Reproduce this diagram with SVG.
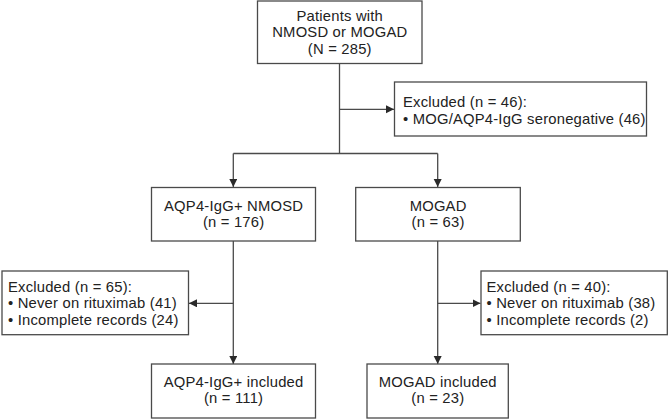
<svg xmlns="http://www.w3.org/2000/svg" width="669" height="420" viewBox="0 0 669 420">
<style>
.box{fill:#fff;stroke:#4a4a4a;stroke-width:1.3}
.t{font-family:"Liberation Sans",Arial,sans-serif;font-size:14.8px;letter-spacing:0.2px;fill:#222}
.c{text-anchor:middle}
.ln{fill:none;stroke:#4a4a4a;stroke-width:1.3}
</style>
<defs>
<marker id="ah" markerUnits="userSpaceOnUse" markerWidth="9" markerHeight="9" refX="8" refY="4" orient="auto">
<path d="M0,0 L8,4 L0,8 z" fill="#2a2a2a"/>
</marker>
</defs>
<rect width="669" height="420" fill="#fff"/>
<g id="connectors">
<path class="ln" d="M339.5,63.5 V153.5"/>
<path class="ln" d="M339.5,109.3 H394" marker-end="url(#ah)"/>
<path class="ln" d="M233.3,153.5 H437.7"/>
<path class="ln" d="M233.3,153.5 V187" marker-end="url(#ah)"/>
<path class="ln" d="M437.7,153.5 V187" marker-end="url(#ah)"/>
<path class="ln" d="M233.3,241 V364" marker-end="url(#ah)"/>
<path class="ln" d="M233.3,303.3 H189" marker-end="url(#ah)"/>
<path class="ln" d="M437.7,241 V364" marker-end="url(#ah)"/>
<path class="ln" d="M437.7,303.3 H480.5" marker-end="url(#ah)"/>
</g>
<g id="n_start">
<rect class="box" x="257.5" y="1" width="164.5" height="62.5"/>
<text class="t c" x="339.8" y="20.5">Patients with<tspan x="339.8" dy="16.8">NMOSD or MOGAD</tspan><tspan x="339.8" dy="16.8">(N = 285)</tspan></text>
</g>
<g id="n_excl46">
<rect class="box" x="394.5" y="82" width="252" height="54"/>
<text class="t" x="403" y="107.3">Excluded (n = 46):<tspan x="403" dy="16.7">• MOG/AQP4-IgG seronegative (46)</tspan></text>
</g>
<g id="n_aqp4">
<rect class="box" x="151.5" y="187.5" width="164" height="53.5"/>
<text class="t c" x="233.6" y="210.7">AQP4-IgG+ NMOSD<tspan x="233.6" dy="16.7">(n = 176)</tspan></text>
</g>
<g id="n_mogad">
<rect class="box" x="355.7" y="187.5" width="164.6" height="53.5"/>
<text class="t c" x="438.1" y="210.7">MOGAD<tspan x="438.1" dy="16.7">(n = 63)</tspan></text>
</g>
<g id="n_excl65">
<rect class="box" x="2" y="271" width="186.5" height="63.7"/>
<text class="t" x="8" y="291.7">Excluded (n = 65):<tspan x="8" dy="16.7">• Never on rituximab (41)</tspan><tspan x="8" dy="16.7">• Incomplete records (24)</tspan></text>
</g>
<g id="n_excl40">
<rect class="box" x="481" y="271" width="186.3" height="63.7"/>
<text class="t" x="486.5" y="291.7">Excluded (n = 40):<tspan x="486.5" dy="16.7">• Never on rituximab (38)</tspan><tspan x="486.5" dy="16.7">• Incomplete records (2)</tspan></text>
</g>
<g id="n_aqp4_inc">
<rect class="box" x="151.5" y="364" width="164" height="54"/>
<text class="t c" x="233.6" y="386.7">AQP4-IgG+ included<tspan x="233.6" dy="16.7">(n = 111)</tspan></text>
</g>
<g id="n_mogad_inc">
<rect class="box" x="367" y="364" width="141.3" height="54"/>
<text class="t c" x="437.8" y="386.7">MOGAD included<tspan x="437.8" dy="16.7">(n = 23)</tspan></text>
</g>
</svg>
